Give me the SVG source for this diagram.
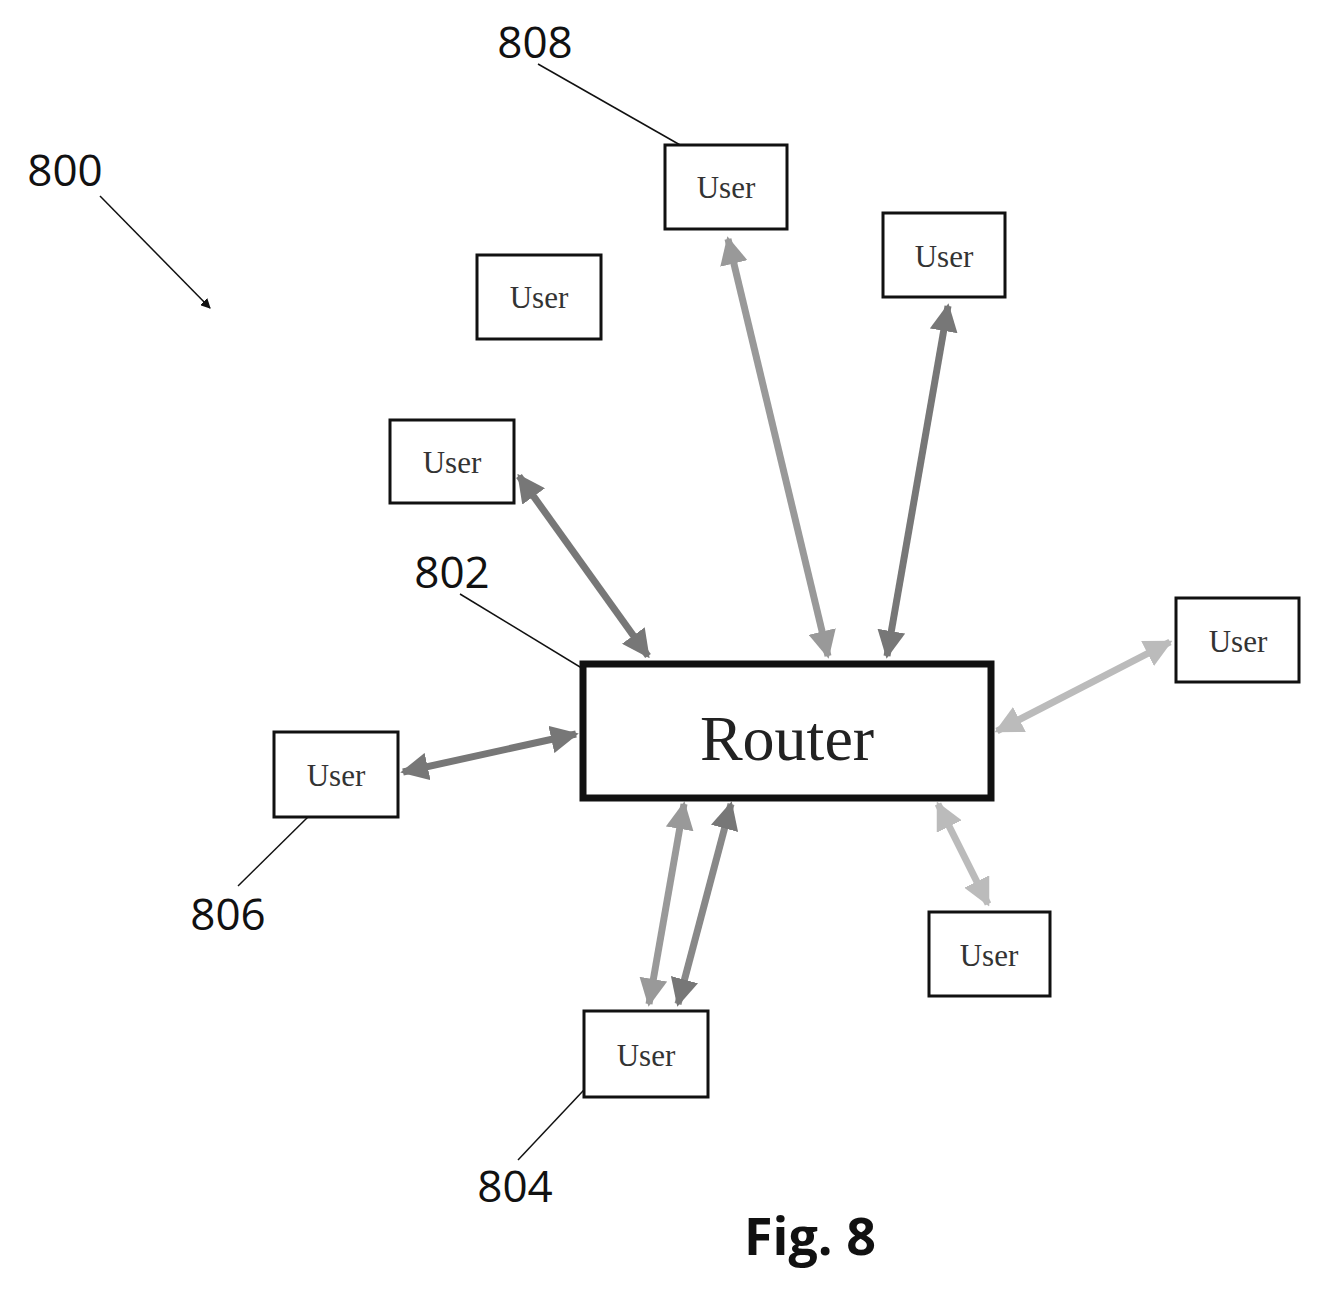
<svg xmlns="http://www.w3.org/2000/svg" width="1322" height="1289" viewBox="0 0 1322 1289">
<style>
.box{fill:#fff;stroke:#111;stroke-width:3}
.ut{font-family:"Liberation Serif",serif;font-size:31px;fill:#333;text-anchor:middle}
.lbl{font-family:"Open Sans","Liberation Sans",sans-serif;font-size:44px;fill:#111;text-anchor:middle}
.ld{stroke:#111;stroke-width:1.5;fill:none}
.a{stroke-width:7;fill:none}
</style>
<defs>
<marker id="m1" viewBox="0 0 10 10" refX="9" refY="5" markerWidth="4" markerHeight="4" orient="auto-start-reverse" markerUnits="strokeWidth"><path d="M0,0L10,5L0,10z" fill="#777"/></marker>
<marker id="m2" viewBox="0 0 10 10" refX="9" refY="5" markerWidth="4" markerHeight="4" orient="auto-start-reverse" markerUnits="strokeWidth"><path d="M0,0L10,5L0,10z" fill="#999"/></marker>
<marker id="m3" viewBox="0 0 10 10" refX="9" refY="5" markerWidth="4" markerHeight="4" orient="auto-start-reverse" markerUnits="strokeWidth"><path d="M0,0L10,5L0,10z" fill="#bbb"/></marker>
<marker id="ab" viewBox="0 0 10 10" refX="9" refY="5" markerWidth="10" markerHeight="10" orient="auto" markerUnits="userSpaceOnUse"><path d="M0,0L10,5L0,10z" fill="#111"/></marker>
</defs>
<g id="connectors">
<line class="a" x1="519" y1="476" x2="648" y2="656" stroke="#777" marker-start="url(#m1)" marker-end="url(#m1)"/>
<line class="a" x1="728" y1="239" x2="828" y2="656" stroke="#999" marker-start="url(#m2)" marker-end="url(#m2)"/>
<line class="a" x1="948" y1="306" x2="887" y2="656" stroke="#777" marker-start="url(#m1)" marker-end="url(#m1)"/>
<line class="a" x1="1170" y1="642" x2="997" y2="731" stroke="#bbb" marker-start="url(#m3)" marker-end="url(#m3)"/>
<line class="a" x1="403" y1="772" x2="576" y2="734" stroke="#777" marker-start="url(#m1)" marker-end="url(#m1)"/>
<line class="a" x1="938" y1="804" x2="988" y2="904" stroke="#bbb" marker-start="url(#m3)" marker-end="url(#m3)"/>
<line class="a" x1="684" y1="804" x2="649" y2="1004" stroke="#999" marker-start="url(#m2)" marker-end="url(#m2)"/>
<line class="a" x1="731" y1="804" x2="678" y2="1004" stroke="#888" marker-start="url(#m1)" marker-end="url(#m1)"/>
<line class="ld" x1="100" y1="196" x2="210" y2="308" marker-end="url(#ab)"/>
<line class="ld" x1="538" y1="64" x2="710" y2="162"/>
<line class="ld" x1="460" y1="594" x2="626" y2="695"/>
<line class="ld" x1="238" y1="886" x2="310" y2="815"/>
<line class="ld" x1="518" y1="1160" x2="598" y2="1075"/>
</g>
<g id="router"><rect x="583" y="664" width="408" height="134" fill="#fff" stroke="#111" stroke-width="7"/><text x="787" y="760" font-family="Liberation Serif,serif" font-size="64" fill="#222" text-anchor="middle">Router</text></g>
<g id="u808"><rect class="box" x="665" y="145" width="122" height="84"/><text class="ut" x="726" y="198">User</text></g>
<g id="u2"><rect class="box" x="883" y="213" width="122" height="84"/><text class="ut" x="944" y="267">User</text></g>
<g id="u3"><rect class="box" x="477" y="255" width="124" height="84"/><text class="ut" x="539" y="308">User</text></g>
<g id="u4"><rect class="box" x="390" y="420" width="124" height="83"/><text class="ut" x="452" y="473">User</text></g>
<g id="u5"><rect class="box" x="1176" y="598" width="123" height="84"/><text class="ut" x="1238" y="652">User</text></g>
<g id="u806"><rect class="box" x="274" y="732" width="124" height="85"/><text class="ut" x="336" y="786">User</text></g>
<g id="u7"><rect class="box" x="929" y="912" width="121" height="84"/><text class="ut" x="989" y="966">User</text></g>
<g id="u804"><rect class="box" x="584" y="1011" width="124" height="86"/><text class="ut" x="646" y="1066">User</text></g>
<g id="labels">
<text class="lbl" x="65" y="186">800</text>
<text class="lbl" x="535" y="58">808</text>
<text class="lbl" x="452" y="588">802</text>
<text class="lbl" x="228" y="930">806</text>
<text class="lbl" x="515" y="1202">804</text>
<text x="810" y="1255" font-family="Open Sans,Liberation Sans,sans-serif" font-weight="bold" font-size="52" fill="#111" text-anchor="middle">Fig. 8</text>
</g>
</svg>
